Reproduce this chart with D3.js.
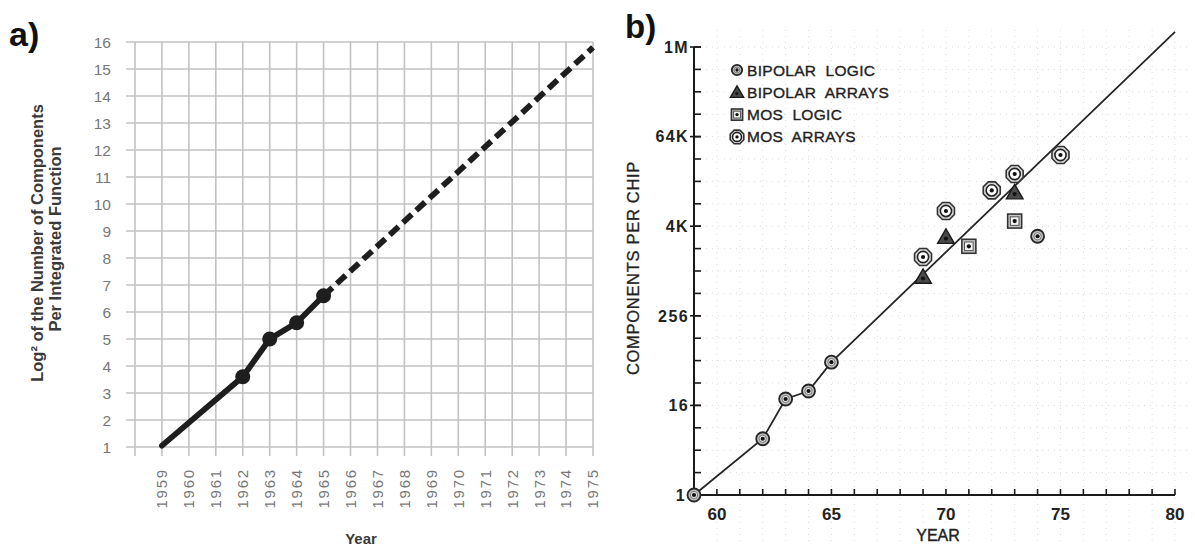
<!DOCTYPE html>
<html>
<head>
<meta charset="utf-8">
<script src="https://cdn.jsdelivr.net/npm/d3@7"></script>
<style>
  html, body { margin: 0; padding: 0; background: #fff; }
  svg { display: block; }
</style>
</head>
<body>
<svg id="chart" width="1195" height="549"></svg>
<script>
// ---------- Panel a: log2 of components per integrated function ----------
const aYears = [1959, 1962, 1963, 1964, 1965];
const aLog2 = [1.05, 3.6, 5.0, 5.6, 6.6];
const aMarkerYears = [1962, 1963, 1964, 1965];
const aMarkerLog2 = [3.6, 5.0, 5.6, 6.6];
const aProjYears = [1965, 1975];
const aProjLog2 = [6.6, 15.8];
const aXTicks = d3.range(1959, 1976);
const aYTicks = d3.range(1, 17);

// ---------- Panel b: components per chip vs year ----------
const bTrendYears = [1959, 1962, 1963, 1964, 1965, 1980];
const bTrendCounts = [1, 5.7, 19.5, 25, 61, 1670000];
const bBipolarLogicYears = [1959, 1962, 1963, 1964, 1965, 1974];
const bBipolarLogicCounts = [1, 5.7, 19.5, 25, 61, 3000];
const bBipolarArraysYears = [1969, 1970, 1973];
const bBipolarArraysCounts = [850, 2930, 11600];
const bMosLogicYears = [1971, 1973];
const bMosLogicCounts = [2200, 4800];
const bMosArraysYears = [1969, 1970, 1972, 1973, 1975];
const bMosArraysCounts = [1580, 6560, 12400, 20600, 37100];
const bYTickValues = [1, 16, 256, 4096, 65536, 1048576];
const bYTickLabels = ["1", "16", "256", "4K", "64K", "1M"];
const bXTickLabels = ["60", "65", "70", "75", "80"];
const legendNames = ["BIPOLAR  LOGIC", "BIPOLAR  ARRAYS", "MOS  LOGIC", "MOS  ARRAYS"];

const svg = d3.select("#chart");
const FONT = "Liberation Sans, Arial, sans-serif";

// ================= Panel a =================
const xA = d3.scaleLinear().domain([1958, 1975]).range([135, 593]);
const yA = d3.scaleLinear().domain([1, 16]).range([447, 42]);
const gA = svg.append("g");

// grid: horizontal lines at each integer, vertical at each year
gA.append("g").selectAll("line").data(aYTicks).join("line")
  .attr("x1", 126).attr("x2", xA(1975))
  .attr("y1", d => yA(d)).attr("y2", d => yA(d))
  .attr("stroke", "#c2c2c2").attr("stroke-width", 1.6);
gA.append("g").selectAll("line").data(d3.range(1958, 1976)).join("line")
  .attr("x1", d => xA(d)).attr("x2", d => xA(d))
  .attr("y1", yA(16)).attr("y2", yA(1) + 9)
  .attr("stroke", "#c2c2c2").attr("stroke-width", 1.6);

// y tick labels
gA.append("g").selectAll("text").data(aYTicks).join("text")
  .attr("x", 111).attr("y", d => yA(d)).attr("dy", "0.36em")
  .attr("text-anchor", "end")
  .attr("font-family", FONT)
  .attr("font-size", 15.5).attr("fill", "#777")
  .text(d => d);

// x tick labels, rotated
gA.append("g").selectAll("text").data(aXTicks).join("text")
  .attr("transform", d => `translate(${xA(d)},${468}) rotate(-90)`)
  .attr("dy", "0.36em")
  .attr("text-anchor", "end")
  .attr("font-family", FONT)
  .attr("font-size", 15).attr("letter-spacing", 1.8).attr("fill", "#777")
  .text(d => d);

// axis titles
const yTitleA = gA.append("g").attr("font-family", FONT)
  .attr("font-weight", "bold").attr("font-size", 16.5).attr("fill", "#3a3a3a")
  .attr("text-anchor", "middle");
yTitleA.append("text").attr("transform", "translate(43,243) rotate(-90)")
  .text("Log² of the Number of Components");
yTitleA.append("text").attr("transform", "translate(61,239) rotate(-90)")
  .text("Per Integrated Function");
gA.append("text").attr("x", 361).attr("y", 544)
  .attr("text-anchor", "middle")
  .attr("font-family", FONT)
  .attr("font-weight", "bold").attr("font-size", 15).attr("fill", "#3a3a3a")
  .text("Year");

// measured line
const lineA = d3.line().x(d => xA(d[0])).y(d => yA(d[1]));
gA.append("path").datum(d3.zip(aYears, aLog2))
  .attr("d", lineA).attr("fill", "none")
  .attr("stroke", "#1e1e1e").attr("stroke-width", 5.8)
  .attr("stroke-linejoin", "round").attr("stroke-linecap", "round");
// projection
gA.append("path").datum(d3.zip(aProjYears, aProjLog2))
  .attr("d", lineA).attr("fill", "none")
  .attr("stroke", "#1e1e1e").attr("stroke-width", 5.8)
  .attr("stroke-dasharray", "12,6");
gA.append("g").selectAll("circle").data(d3.zip(aMarkerYears, aMarkerLog2)).join("circle")
  .attr("cx", d => xA(d[0])).attr("cy", d => yA(d[1])).attr("r", 7.5)
  .attr("fill", "#1e1e1e");

gA.append("text").attr("x", 9).attr("y", 46)
  .attr("font-family", FONT)
  .attr("font-weight", "bold").attr("font-size", 34).attr("fill", "#111")
  .text("a)");

// ================= Panel b =================
const xB = d3.scaleLinear().domain([1959, 1980]).range([694, 1175]);
const yB = d3.scaleLog().base(2).domain([1, 1048576]).range([495, 47]);
const gB = svg.append("g");

// faint dotted paper grid
const powers = d3.range(1, 21).map(p => Math.pow(2, p));
gB.append("g").selectAll("line").data(d3.range(1960, 1981)).join("line")
  .attr("x1", d => xB(d)).attr("x2", d => xB(d)).attr("y1", 30).attr("y2", 545)
  .attr("stroke", "#dcdcdc").attr("stroke-width", 1).attr("stroke-dasharray", "1,5");
gB.append("g").selectAll("line").data(powers).join("line")
  .attr("x1", 700).attr("x2", 1190).attr("y1", d => yB(d)).attr("y2", d => yB(d))
  .attr("stroke", "#dcdcdc").attr("stroke-width", 1).attr("stroke-dasharray", "1,5");

// y axis
const yAxisB = gB.append("g");
yAxisB.append("line").attr("x1", xB(1959)).attr("x2", xB(1959))
  .attr("y1", yB(1)).attr("y2", yB(1048576))
  .attr("stroke", "#1a1a1a").attr("stroke-width", 2);
yAxisB.append("g").selectAll("line").data(powers).join("line")
  .attr("x1", xB(1959)).attr("x2", xB(1959) + 7)
  .attr("y1", d => yB(d)).attr("y2", d => yB(d))
  .attr("stroke", "#1a1a1a").attr("stroke-width", 1.6);
yAxisB.append("g").selectAll("line").data(bYTickValues).join("line")
  .attr("x1", xB(1959) - 4).attr("x2", xB(1959) + 7)
  .attr("y1", d => yB(d)).attr("y2", d => yB(d))
  .attr("stroke", "#1a1a1a").attr("stroke-width", 1.6);
yAxisB.append("g").selectAll("text").data(d3.zip(bYTickValues, bYTickLabels)).join("text")
  .attr("x", d => xB(1959) - (d[0] === 1 ? 8 : 5)).attr("y", d => yB(d[0])).attr("dy", "0.36em")
  .attr("text-anchor", "end")
  .attr("font-family", FONT)
  .attr("font-weight", "bold").attr("font-size", 16).attr("letter-spacing", 1.4)
  .attr("fill", "#222")
  .text(d => d[1]);

// x axis
const xAxisB = gB.append("g");
xAxisB.append("line").attr("x1", xB(1959)).attr("x2", xB(1980))
  .attr("y1", yB(1)).attr("y2", yB(1))
  .attr("stroke", "#1a1a1a").attr("stroke-width", 2);
xAxisB.append("g").selectAll("line").data(d3.range(1960, 1981)).join("line")
  .attr("x1", d => xB(d)).attr("x2", d => xB(d))
  .attr("y1", yB(1)).attr("y2", yB(1) - 6)
  .attr("stroke", "#1a1a1a").attr("stroke-width", 1.6);
xAxisB.append("g").selectAll("text").data(bXTickLabels).join("text")
  .attr("x", d => xB(1900 + +d)).attr("y", 520)
  .attr("text-anchor", "middle")
  .attr("font-family", FONT)
  .attr("font-weight", "bold").attr("font-size", 17).attr("fill", "#222")
  .text(d => d);

gB.append("text").attr("x", 938).attr("y", 541)
  .attr("text-anchor", "middle")
  .attr("font-family", FONT)
  .attr("font-size", 16).attr("fill", "#222").attr("stroke", "#222").attr("stroke-width", 0.4)
  .text("YEAR");
gB.append("text").attr("transform", "translate(639,268) rotate(-90)")
  .attr("text-anchor", "middle")
  .attr("font-family", FONT)
  .attr("font-size", 16.5).attr("letter-spacing", 0.7).attr("fill", "#222")
  .attr("stroke", "#222").attr("stroke-width", 0.3)
  .text("COMPONENTS PER CHIP");

// trend line
const lineB = d3.line().x(d => xB(d[0])).y(d => yB(d[1]));
gB.append("path").datum(d3.zip(bTrendYears, bTrendCounts))
  .attr("d", lineB).attr("fill", "none")
  .attr("stroke", "#262626").attr("stroke-width", 1.8);

// marker drawers
function bipolarLogic(g, s) {
  g.append("circle").attr("r", 6.5 * s).attr("fill", "#bdbdbd")
    .attr("stroke", "#262626").attr("stroke-width", 1.8);
  g.append("circle").attr("r", 3.6 * s).attr("fill", "#e8e8e8").attr("stroke", "#666").attr("stroke-width", 0.8);
  g.append("circle").attr("r", 2.1 * s).attr("fill", "#111");
}
function bipolarArrays(g, s) {
  g.append("path").attr("d", d3.symbol(d3.symbolTriangle, 120 * s * s)())
    .attr("transform", `translate(0,${1.5 * s})`)
    .attr("fill", "#4a4a4a").attr("stroke", "#1a1a1a").attr("stroke-width", 1.4);
  g.append("circle").attr("cy", 1.5 * s).attr("r", 2.1 * s).attr("fill", "#111");
}
function mosLogic(g, s) {
  g.append("rect").attr("x", -7 * s).attr("y", -7 * s).attr("width", 14 * s).attr("height", 14 * s)
    .attr("fill", "#c4c4c4").attr("stroke", "#333").attr("stroke-width", 1.6);
  g.append("rect").attr("x", -4.3 * s).attr("y", -4.3 * s).attr("width", 8.6 * s).attr("height", 8.6 * s)
    .attr("fill", "#f2f2f2").attr("stroke", "#555").attr("stroke-width", 1);
  g.append("circle").attr("r", 2.1 * s).attr("fill", "#111");
}
function mosArrays(g, s) {
  const r = 9.2 * s;
  const pts = d3.range(8).map(i => {
    const a = Math.PI / 8 + i * Math.PI / 4;
    return [r * Math.cos(a), r * Math.sin(a)];
  });
  g.append("path").attr("d", "M" + pts.join("L") + "Z")
    .attr("fill", "#d6d6d6").attr("stroke", "#333").attr("stroke-width", 1.6);
  g.append("circle").attr("r", 5.6 * s).attr("fill", "#fff")
    .attr("stroke", "#222").attr("stroke-width", 1.6);
  g.append("circle").attr("r", 2.1 * s).attr("fill", "#111");
}

function plotSeries(years, counts, draw) {
  gB.append("g").selectAll("g").data(d3.zip(years, counts)).join("g")
    .attr("transform", d => `translate(${xB(d[0])},${yB(d[1])})`)
    .each(function () { draw(d3.select(this), 1); });
}
plotSeries(bBipolarLogicYears, bBipolarLogicCounts, bipolarLogic);
plotSeries(bBipolarArraysYears, bBipolarArraysCounts, bipolarArrays);
plotSeries(bMosLogicYears, bMosLogicCounts, mosLogic);
plotSeries(bMosArraysYears, bMosArraysCounts, mosArrays);

// legend
const legendDraw = [bipolarLogic, bipolarArrays, mosLogic, mosArrays];
const legend = gB.append("g");
legendNames.forEach((name, i) => {
  const row = legend.append("g").attr("transform", `translate(0,${70 + i * 22.3})`);
  legendDraw[i](row.append("g").attr("transform", "translate(737,0)"), 0.8);
  row.append("text").attr("x", 747).attr("y", 0).attr("dy", "0.36em")
    .attr("font-family", FONT)
    .attr("font-size", 15.5).attr("letter-spacing", 0.3)
    .attr("fill", "#222").attr("stroke", "#222").attr("stroke-width", 0.35)
    .attr("xml:space", "preserve").style("white-space", "pre")
    .text(name);
});

gB.append("text").attr("x", 625).attr("y", 38)
  .attr("font-family", FONT)
  .attr("font-weight", "bold").attr("font-size", 33).attr("fill", "#111")
  .text("b)");
</script>
</body>
</html>
